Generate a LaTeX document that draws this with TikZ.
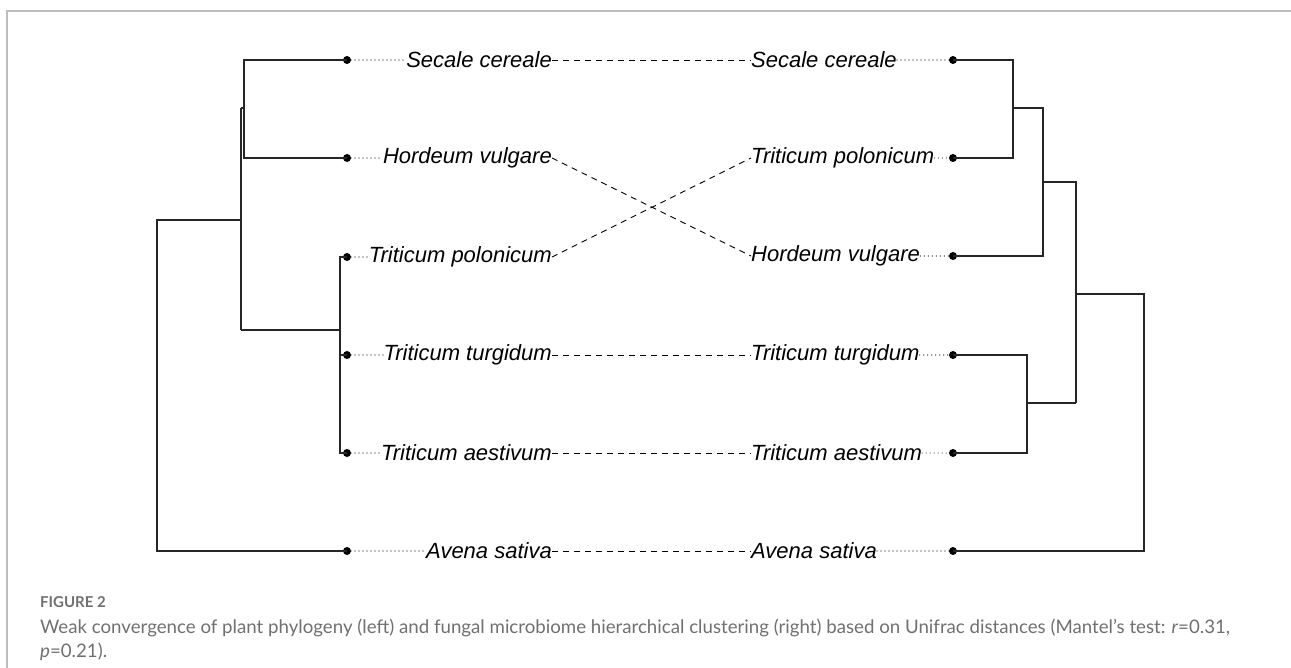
\documentclass[tikz,border=0pt]{standalone}
\usepackage{graphicx}
\usepackage{fontspec}
\newfontfamily\labfont{Liberation Sans}
\newfontfamily\capfont{Lato}
\definecolor{framegray}{HTML}{BDBDBD}
\definecolor{capgray}{HTML}{707070}
\newlength\capw
\newcommand\caplineone{Weak convergence of plant phylogeny (left) and fungal microbiome hierarchical clustering (right) based on Unifrac distances (Mantel’s test: \textit{r}=0.31,}
\begin{document}
\settowidth\capw{\capfont\fontsize{10}{12}\selectfont\caplineone}
\pgfmathsetmacro\capscale{1190/\capw}
\begin{tikzpicture}[x=1pt,y=-1pt,
  tip/.style={circle,fill=black,inner sep=0pt,minimum size=8pt},
  lab/.style={inner sep=0pt,font=\labfont\itshape\fontsize{22}{24}\selectfont},
  branch/.style={line width=1.4pt,black!85},
  dotline/.style={line width=1.2pt,line cap=round,dash pattern=on 0pt off 4pt},
  dashline/.style={line width=0.9pt,dash pattern=on 6pt off 5pt},
  frame/.style={line width=1.6pt,framegray}]
\useasboundingbox (0,0) rectangle (1291,668);
\draw[frame] (7,668) -- (7,11) -- (1291,11);

% left tips
\node[tip] (l1) at (347,60) {};
\node[tip] (l2) at (347,158) {};
\node[tip] (l3) at (347,257) {};
\node[tip] (l4) at (347,355) {};
\node[tip] (l5) at (347,453) {};
\node[tip] (l6) at (347,551) {};
% right tips
\node[tip] (r1) at (953,60) {};
\node[tip] (r2) at (953,158) {};
\node[tip] (r3) at (953,256) {};
\node[tip] (r4) at (953,355) {};
\node[tip] (r5) at (953,453) {};
\node[tip] (r6) at (953,551) {};

% left labels
\node[lab,anchor=east] (L1) at (552,60) {Secale cereale};
\node[lab,anchor=east] (L2) at (552,158) {Hordeum vulgare};
\node[lab,anchor=east] (L3) at (552,257) {Triticum polonicum};
\node[lab,anchor=east] (L4) at (552,355) {Triticum turgidum};
\node[lab,anchor=east] (L5) at (552,453) {Triticum aestivum};
\node[lab,anchor=east] (L6) at (552,551) {Avena sativa};
% right labels
\node[lab,anchor=west] (R1) at (751,60) {Secale cereale};
\node[lab,anchor=west] (R2) at (751,158) {Triticum polonicum};
\node[lab,anchor=west] (R3) at (751,256) {Hordeum vulgare};
\node[lab,anchor=west] (R4) at (751,355) {Triticum turgidum};
\node[lab,anchor=west] (R5) at (751,453) {Triticum aestivum};
\node[lab,anchor=west] (R6) at (751,551) {Avena sativa};

% dotted leaders
\foreach \i in {1,...,6}{
  \draw[dotline] (l\i.center) -- (L\i.west);
  \draw[dotline] (R\i.east) -- (r\i.center);
}
% dashed tanglegram links
\draw[dashline] (L1.east) -- (R1.west);
\draw[dashline] (L2.east) -- (R3.west);
\draw[dashline] (L3.east) -- (R2.west);
\draw[dashline] (L4.east) -- (R4.west);
\draw[dashline] (L5.east) -- (R5.west);
\draw[dashline] (L6.east) -- (R6.west);

% left tree internal nodes
\coordinate (a1) at (244,108);
\coordinate (a2) at (241,108);
\coordinate (a3) at (340,330);
\coordinate (a4) at (241,330);
\coordinate (a5) at (241,220);
\coordinate (a6) at (157,220);
\draw[branch] (l1.center) -- (244,60) -- (244,158) -- (l2.center);
\draw[branch] (a1) -- (a2);
\draw[branch] (l3.center) -- (340,257) -- (340,453) -- (l5.center);
\draw[branch] (l4.center) -- (340,355);
\draw[branch] (a3) -- (a4);
\draw[branch] (a2) -- (241,330);
\draw[branch] (a5) -- (a6) -- (157,551) -- (l6.center);

% right tree internal nodes
\coordinate (b1) at (1013,108);
\coordinate (b2) at (1043,108);
\coordinate (b3) at (1043,182);
\coordinate (b4) at (1076,182);
\coordinate (b5) at (1027,403);
\coordinate (b6) at (1076,403);
\coordinate (b7) at (1076,294);
\coordinate (b8) at (1144,294);
\draw[branch] (r1.center) -- (1013,60) -- (1013,158) -- (r2.center);
\draw[branch] (b1) -- (b2) -- (1043,256) -- (r3.center);
\draw[branch] (b3) -- (b4) -- (b6);
\draw[branch] (r4.center) -- (1027,355) -- (1027,453) -- (r5.center);
\draw[branch] (b5) -- (b6);
\draw[branch] (b7) -- (b8) -- (1144,551) -- (r6.center);

% caption
\node[anchor=west,inner sep=0pt,text=capgray,font=\capfont\bfseries\fontsize{15}{18}\selectfont] (fig) at (40,602) {FIGURE 2};
\node[anchor=west,inner sep=0pt,text=capgray] (cap1) at (40,628)
  {\scalebox{\capscale}{\capfont\fontsize{10}{12}\selectfont\caplineone}};
\node[anchor=west,inner sep=0pt,text=capgray] (cap2) at (40,652)
  {\scalebox{\capscale}{\capfont\fontsize{10}{12}\selectfont\textit{p}=0.21).}};
\end{tikzpicture}
\end{document}
